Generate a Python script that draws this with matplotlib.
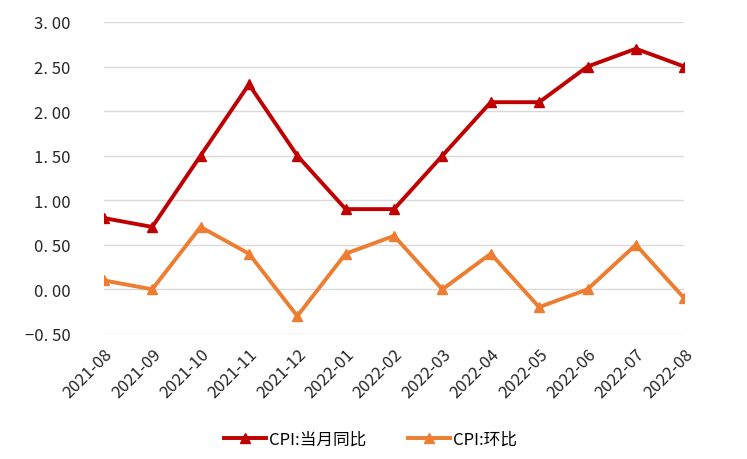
import matplotlib.pyplot as plt
from matplotlib.ticker import FuncFormatter

plt.rcParams['font.family'] = ['Noto Sans CJK SC', 'DejaVu Sans']

months = ["2021-08", "2021-09", "2021-10", "2021-11", "2021-12", "2022-01", "2022-02",
          "2022-03", "2022-04", "2022-05", "2022-06", "2022-07", "2022-08"]
cpi_yoy = [0.8, 0.7, 1.5, 2.3, 1.5, 0.9, 0.9, 1.5, 2.1, 2.1, 2.5, 2.7, 2.5]
cpi_mom = [0.1, 0.0, 0.7, 0.4, -0.3, 0.4, 0.6, 0.0, 0.4, -0.2, 0.0, 0.5, -0.1]
yticks = [-0.5, 0.0, 0.5, 1.0, 1.5, 2.0, 2.5, 3.0]

fig = plt.figure(figsize=(7.47, 4.6), dpi=100)
ax = fig.add_axes([0.139, 0.272, 0.777, 0.678])

x = list(range(len(months)))
ax.plot(x, cpi_yoy, color="#C00000", lw=2.8, marker="^", ms=6.5, label="CPI:当月同比")
ax.plot(x, cpi_mom, color="#ED7D31", lw=2.8, marker="^", ms=6.5, label="CPI:环比")

ax.set_xlim(0, len(months) - 1)
ax.set_ylim(-0.5, 3.0)
ax.set_yticks(yticks)
ax.yaxis.set_major_formatter(FuncFormatter(lambda v, p: f"{v:.2f}".replace("-", "\u2212").replace(".", ". ")))
ax.set_xticks(x)
ax.set_xticklabels(months, rotation=45, ha="right", rotation_mode="anchor")
ax.tick_params(length=0, labelsize=12, colors="#262626", pad=8)
ax.tick_params(axis="y", pad=24)
ax.grid(axis="y", color="#D9D9D9", lw=1)
ax.set_axisbelow(True)
for s in ax.spines.values():
    s.set_visible(False)

ax.legend(loc="center", bbox_to_anchor=(0.46, -0.337), ncol=2, frameon=False,
          fontsize=12, handlelength=2.5, columnspacing=2.5, handletextpad=0.2)

fig.savefig("out.png", dpi=100)
